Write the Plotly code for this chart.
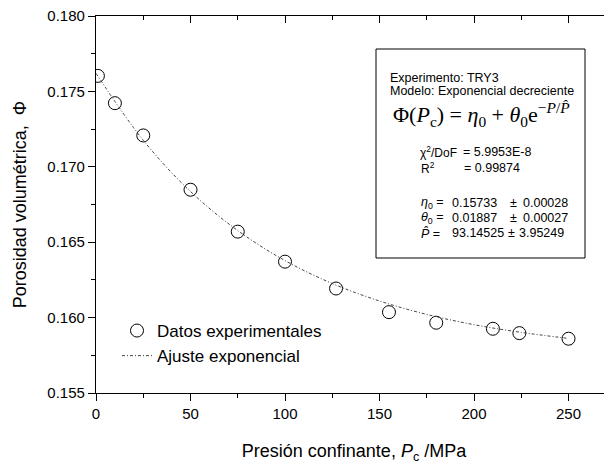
import plotly.graph_objects as go

p_exp = [1, 10, 25, 50, 75, 100, 127, 155, 180, 210, 224, 250]
phi_exp = [0.17603, 0.17422, 0.17208, 0.16848, 0.16570, 0.16371, 0.16193,
           0.16036, 0.15966, 0.15926, 0.15897, 0.15860]

# Fitted curve
p_fit = [0, 25, 50, 75, 100, 125, 150, 175, 200, 225, 250]
phi_fit = [0.17620, 0.17176, 0.16836, 0.16577, 0.16378, 0.16226, 0.16110,
           0.16021, 0.15953, 0.15902, 0.15862]

x_ticks = [0, 50, 100, 150, 200, 250]
y_ticks = [0.155, 0.160, 0.165, 0.170, 0.175, 0.180]

# page offset (default body margin) compensated in margins
OFF = 8
W, H = 612, 467
L, R, T, B = 96 - OFF, OFF, 16 - OFF, 74 + OFF
PW, PH = W - L - R, H - T - B


def px(x):  # page pixel -> paper
    return (x - OFF - L) / PW


def py(y):
    return (H - B - (y - OFF)) / PH


FONT = "Liberation Sans, Arial, sans-serif"

fig = go.Figure()
fig.add_trace(go.Scatter(
    x=p_exp, y=phi_exp, mode="markers", name="Datos experimentales",
    marker=dict(symbol="circle-open", size=13, color="black",
                line=dict(width=1, color="black")),
))
fig.add_trace(go.Scatter(
    x=p_fit, y=phi_fit, mode="lines", name="Ajuste exponencial",
    line=dict(color="#444444", width=1, dash="3px,2px,1px,2px", shape="spline"),
))
# invisible trace for the mirrored top axis
fig.add_trace(go.Scatter(x=[0], y=[0.16], xaxis="x2", yaxis="y", mode="markers",
                         marker=dict(opacity=0), showlegend=False, hoverinfo="skip"))

fig.update_layout(
    width=W, height=H,
    margin=dict(l=L, r=R, t=T, b=B, autoexpand=False),
    paper_bgcolor="white", plot_bgcolor="white",
    font=dict(family=FONT, color="black", size=15),
    showlegend=True,
    legend=dict(x=px(117), y=py(313), xanchor="left", yanchor="top",
                bgcolor="rgba(0,0,0,0)", font=dict(size=17),
                tracegroupgap=0, itemwidth=30),
    xaxis=dict(range=[0, 273], tickvals=x_ticks, showgrid=False, zeroline=False,
               automargin=False, ticklabeloverflow="allow",
               showline=True, linecolor="black", linewidth=1.2,
               ticks="outside", ticklen=7, tickwidth=1, tickcolor="black",
               minor=dict(dtick=25, ticks="outside", ticklen=4, tickcolor="black"),
               tickfont=dict(size=15),
               title=dict(text="Presión confinante, <i>P</i><sub>c</sub> /MPa",
                          font=dict(size=18), standoff=23)),
    xaxis2=dict(range=[0, 273], overlaying="x", side="top", tickvals=x_ticks,
                automargin=False,
                showgrid=False, zeroline=False, showline=True, linecolor="black",
                linewidth=1.2, ticks="inside", ticklen=7, tickcolor="black",
                minor=dict(dtick=25, ticks="inside", ticklen=4, tickcolor="black"),
                showticklabels=False),
    yaxis=dict(range=[0.155, 0.180], tickvals=y_ticks, tickformat=".3f",
               automargin=False, ticklabeloverflow="allow",
               showgrid=False, zeroline=False, showline=True, linecolor="black",
               linewidth=1.2, ticks="outside", ticklen=7, tickwidth=1, tickcolor="black",
               minor=dict(dtick=0.0025, ticks="outside", ticklen=4, tickcolor="black"),
               tickfont=dict(size=15),
               title=dict(text="Porosidad volumétrica,  Φ", font=dict(size=18),
                          standoff=16)),
)

# Parameter box
fig.add_shape(type="rect", xref="paper", yref="paper",
              x0=px(376), x1=px(585), y0=py(258), y1=py(49),
              line=dict(color="black", width=1), fillcolor="white", layer="above")


def note(text, x, y, size=12.5, family=FONT, anchor="left"):
    fig.add_annotation(text=text, xref="paper", yref="paper", x=px(x), y=py(y),
                       xanchor=anchor, yanchor="middle", showarrow=False,
                       font=dict(size=size, family=family, color="black"))


note("Experimento: TRY3", 388, 78)
note("Modelo: Exponencial decreciente", 388, 91)
note("Φ(<i>P</i><sub>c</sub>) = <i>η</i><sub>0</sub> + <i>θ</i><sub>0</sub>e<sup>−<i>P</i>/<i>P̂</i></sup>",
     481, 115, size=22, family="Liberation Serif, Times New Roman, serif", anchor="center")
note("χ<sup>2</sup>/DoF", 418, 152, size=12)
note("= 5.9953E-8", 461, 152)
note("R<sup>2</sup>", 419, 168, size=12)
note("= 0.99874", 462, 168)
note("<i>η</i><sub>0</sub> =", 419, 203)
note("0.15733", 450, 203)
note("±", 508, 203)
note("0.00028", 521, 203)
note("<i>θ</i><sub>0</sub> =", 419, 218)
note("0.01887", 450, 218)
note("±", 508, 218)
note("0.00027", 521, 218)
note("<i>P̂</i> =", 419, 233)
note("93.14525", 450, 233)
note("±", 506, 233)
note("3.95249", 517, 233)

fig.write_html("out.html")
